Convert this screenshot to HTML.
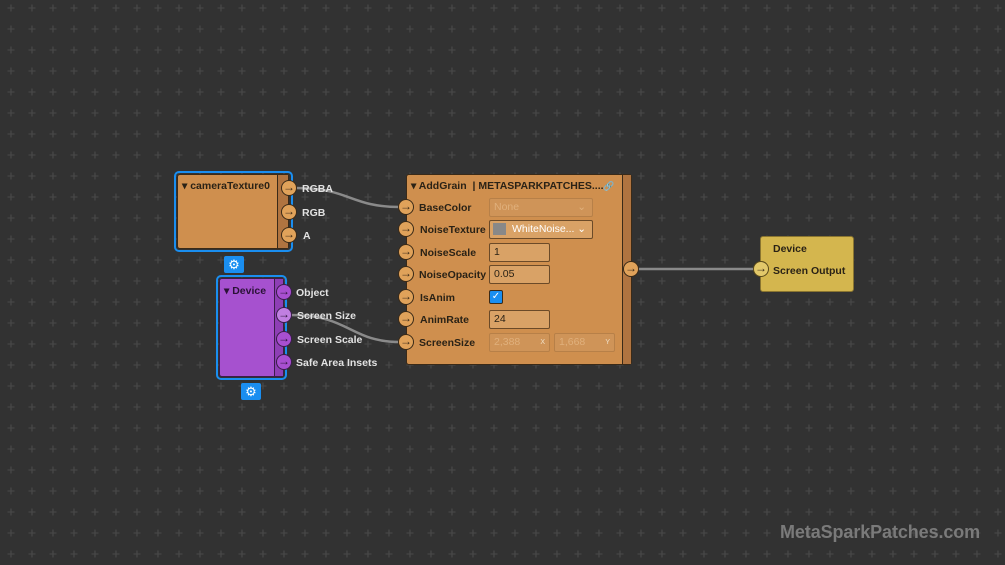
<!DOCTYPE html>
<html><head><meta charset="utf-8"><style>
*{margin:0;padding:0;box-sizing:border-box}
body{width:1005px;height:565px;overflow:hidden;background:#323232;font-family:"Liberation Sans",sans-serif;position:relative}
.a{position:absolute}
.t{position:absolute;font-size:10.5px;font-weight:bold;color:#2a2216;white-space:nowrap;line-height:12px}
.w{color:#e2e2e2}
.port{position:absolute;width:16px;height:16px;border-radius:50%;border:1.5px solid #3a2a18;background:#e0a25a;font-size:12px;line-height:13px;text-align:center;color:#3a2a18}
.pp{background:#a84fd0;border-color:#3a1d4a;color:#2a1236}
.fld{position:absolute;border:1.5px solid #6b4a28;border-radius:2px;background:#d9a266;font-size:10.5px;color:#2a2216;padding-left:4px;line-height:17px}
.dis{background:#cf9458;border-color:#b78048;color:#e0b07c}
.gear{position:absolute;width:20px;height:17px;background:#1a8ef0;border-radius:2px;color:#fff;font-size:13px;line-height:17px;text-align:center}
</style></head><body>
<svg class="a" style="left:0;top:0" width="1005" height="565">
<defs><pattern id="g" x="0" y="0" width="21" height="21" patternUnits="userSpaceOnUse" patternTransform="translate(6,3)">
<path d="M5 1.5V8.5M1.5 5H8.5" stroke="#464646" stroke-width="1.3"/></pattern></defs>
<rect width="1005" height="565" fill="url(#g)"/>
<path d="M296 188 C350 188,350 207,400 207" stroke="#8a8a8a" stroke-width="2.5" fill="none"/>
<path d="M291 315 C350 315,350 342,400 342" stroke="#8a8a8a" stroke-width="2.5" fill="none"/>
<path d="M638 269 H754" stroke="#8a8a8a" stroke-width="2.5" fill="none"/>
</svg>

<!-- cameraTexture -->
<div class="a" style="left:174px;top:171px;width:119px;height:81px;border:2.5px solid #1a8ef0;border-radius:5px"></div>
<div class="a" style="left:177px;top:174px;width:112px;height:75px;background:#cf8f4e;border:1.5px solid #3a2a18;border-radius:3px"></div>
<div class="a" style="left:277px;top:175px;width:11px;height:73px;background:#b07440;border-left:1px solid #3a2a18"></div>
<div class="t" style="left:182px;top:180px">▾ cameraTexture0</div>
<div class="port" style="left:281px;top:180px">→</div>
<div class="port" style="left:281px;top:204px">→</div>
<div class="port" style="left:281px;top:227px">→</div>
<div class="t w" style="left:302px;top:183px">RGBA</div>
<div class="t w" style="left:302px;top:207px">RGB</div>
<div class="t w" style="left:303px;top:230px">A</div>
<div class="gear" style="left:224px;top:256px">⚙</div>

<!-- Device -->
<div class="a" style="left:216px;top:275px;width:71px;height:105px;border:2.5px solid #1a8ef0;border-radius:5px"></div>
<div class="a" style="left:219px;top:278px;width:65px;height:99px;background:#a651cf;border:1.5px solid #3a1d4a;border-radius:3px"></div>
<div class="a" style="left:274px;top:279px;width:9px;height:97px;background:#8e3fb5;border-left:1px solid #3a1d4a"></div>
<div class="t" style="left:224px;top:285px;color:#2a1236">▾ Device</div>
<div class="port pp" style="left:276px;top:284px">→</div>
<div class="port pp" style="left:276px;top:307px;background:#c07fe0">→</div>
<div class="port pp" style="left:276px;top:331px">→</div>
<div class="port pp" style="left:276px;top:354px">→</div>
<div class="t w" style="left:296px;top:287px">Object</div>
<div class="t w" style="left:297px;top:310px">Screen Size</div>
<div class="t w" style="left:297px;top:334px">Screen Scale</div>
<div class="t w" style="left:296px;top:357px">Safe Area Insets</div>
<div class="gear" style="left:241px;top:383px">⚙</div>

<!-- AddGrain -->
<div class="a" style="left:406px;top:174px;width:226px;height:191px;background:#cf8f4e;border:1.5px solid #3a2a18;border-radius:3px"></div>
<div class="a" style="left:622px;top:175px;width:9px;height:189px;background:#b07440;border-left:1px solid #3a2a18"></div>
<div class="t" style="left:411px;top:180px">▾ AddGrain &nbsp;| METASPARKPATCHES....</div>
<div class="t" style="left:603px;top:180px;font-size:9px">🔗</div>
<div class="port" style="left:398px;top:199px">→</div>
<div class="port" style="left:398px;top:221px">→</div>
<div class="port" style="left:398px;top:244px">→</div>
<div class="port" style="left:398px;top:266px">→</div>
<div class="port" style="left:398px;top:289px">→</div>
<div class="port" style="left:398px;top:311px">→</div>
<div class="port" style="left:398px;top:334px">→</div>
<div class="t" style="left:419px;top:202px">BaseColor</div>
<div class="t" style="left:420px;top:224px">NoiseTexture</div>
<div class="t" style="left:420px;top:247px">NoiseScale</div>
<div class="t" style="left:419px;top:269px">NoiseOpacity</div>
<div class="t" style="left:420px;top:292px">IsAnim</div>
<div class="t" style="left:420px;top:314px">AnimRate</div>
<div class="t" style="left:419px;top:337px">ScreenSize</div>
<div class="fld dis" style="left:489px;top:198px;width:104px;height:19px">None<span style="position:absolute;right:6px">⌄</span></div>
<div class="fld" style="left:489px;top:220px;width:104px;height:19px;padding-left:22px;color:#fff">WhiteNoise...<span style="position:absolute;right:6px">⌄</span><span style="position:absolute;left:3px;top:2px;width:13px;height:12px;background:#888"></span></div>
<div class="fld" style="left:489px;top:243px;width:61px;height:19px">1</div>
<div class="fld" style="left:489px;top:265px;width:61px;height:19px">0.05</div>
<div class="a" style="left:489px;top:290px;width:14px;height:14px;background:#1a8ef0;border:1.5px solid #3a2a18;border-radius:2px;color:#fff;font-size:10px;line-height:11px;text-align:center">✓</div>
<div class="fld" style="left:489px;top:310px;width:61px;height:19px">24</div>
<div class="fld dis" style="left:489px;top:333px;width:61px;height:19px">2,388<span style="position:absolute;right:4px;font-size:7px;color:#f0e0c8">X</span></div>
<div class="fld dis" style="left:554px;top:333px;width:61px;height:19px">1,668<span style="position:absolute;right:4px;font-size:7px;color:#f0e0c8">Y</span></div>
<div class="port" style="left:623px;top:261px">→</div>

<!-- Output -->
<div class="a" style="left:760px;top:236px;width:94px;height:56px;background:#d4b64e;border:1px solid #8a7530;border-radius:3px"></div>
<div class="t" style="left:773px;top:243px">Device</div>
<div class="t" style="left:773px;top:265px">Screen Output</div>
<div class="port" style="left:753px;top:261px;background:#e2c86a;border-color:#5a4a1a">→</div>

<div class="a" style="left:780px;top:522px;font-size:18px;font-weight:bold;color:#7a7a7a;letter-spacing:-0.1px">MetaSparkPatches.com</div>
</body></html>
